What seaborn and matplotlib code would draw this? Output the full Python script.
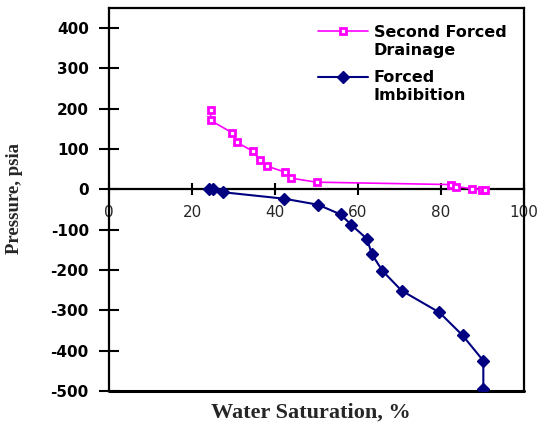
import matplotlib
matplotlib.use("Agg")
import matplotlib.pyplot as plt
import seaborn as sns
import pandas as pd

# Second Forced Drainage
drain_sw = [24.5, 24.5, 29.6, 30.8, 34.6, 36.4, 38.0, 42.4, 43.8, 50.0, 82.5, 83.7, 87.4, 89.8, 90.5]
drain_p = [196, 171, 141, 117, 95, 72, 58, 43, 28, 18, 12, 7, 2, -1, -2]

# Forced Imbibition
imb_sw = [24.2, 25.0, 27.5, 42.2, 50.4, 55.8, 58.4, 62.2, 63.3, 65.9, 70.5, 79.6, 85.2, 90.2, 90.2]
imb_p = [2, 0, -7, -23, -38, -62, -88, -123, -160, -202, -251, -305, -362, -425, -494]

xticks = [0, 20, 40, 60, 80, 100]
yticks = [-500, -400, -300, -200, -100, 0, 100, 200, 300, 400]

sns.set_theme(style="white")
plt.rcParams['font.family'] = ['DejaVu Sans']

W, H = 547, 429
fig = plt.figure(figsize=(W / 100, H / 100), dpi=100)
ax = fig.add_axes([109 / W, (H - 391) / H, 415 / W, 383 / H])

df_d = pd.DataFrame({"sw": drain_sw, "p": drain_p})
df_i = pd.DataFrame({"sw": imb_sw, "p": imb_p})

sns.lineplot(data=df_d, x="sw", y="p", sort=False, ax=ax, color="#FF00FF", lw=1.2,
             marker="s", markersize=5, markerfacecolor="white", markeredgecolor="#FF00FF",
             markeredgewidth=2, label="Second Forced", estimator=None, zorder=4)
sns.lineplot(data=df_i, x="sw", y="p", sort=False, ax=ax, color="#000080", lw=1.5,
             marker="D", markersize=6, markerfacecolor="#000080", markeredgecolor="#000080",
             markeredgewidth=1, label="Forced", estimator=None, zorder=3)

ax.set_xlim(0, 100)
ax.set_ylim(-500, 450)
ax.set_xticks(xticks)
ax.set_yticks(yticks)
ax.set_xticklabels([str(v) for v in xticks], fontsize=11, fontweight="bold", color="black")
ax.set_yticklabels([str(v) for v in yticks], fontsize=11, fontweight="bold", color="black")

for s in ["left", "top", "right", "bottom"]:
    ax.spines[s].set_color("black")
    ax.spines[s].set_linewidth(1.6)
    ax.spines[s].set_zorder(2)
ax.spines["bottom"].set_position(("data", 0))
ax.plot([0, 1], [0, 0], transform=ax.transAxes, color="black", lw=2.2, clip_on=False)

ax.tick_params(axis="x", direction="inout", length=9, width=1.5, color="black", pad=7)
ax.tick_params(axis="y", direction="inout", length=15, width=1.5, color="black", pad=7)
ax.tick_params(bottom=True, left=True)

ax.set_xlabel("")
ax.set_ylabel("")
fig.text(311 / W, 1 - 413 / H, "Water Saturation, %", family=["Liberation Serif", "DejaVu Serif"],
         fontweight="bold", fontsize=16, ha="center", va="center")
fig.text(15 / W, 1 - 198 / H, "Pressure, psia", family=["Liberation Serif", "DejaVu Serif"],
         fontweight="bold", fontsize=13.5, ha="center", va="center", rotation=90)

leg = ax.legend(loc="upper left", bbox_to_anchor=(318 / W, 1 - 25 / H),
                bbox_transform=fig.transFigure, frameon=False, borderpad=0, borderaxespad=0,
                handlelength=3.1, handletextpad=0.4, labelspacing=1.9,
                prop={"family": "DejaVu Sans", "weight": "bold", "size": 11.5})
second_lines = ["Drainage", "Imbibition"]
for t, extra in zip(leg.get_texts(), second_lines):
    t.set_color("black")
    ax.annotate(extra, xy=(0, 0), xycoords=t, xytext=(0, -13), textcoords="offset points",
                ha="left", va="bottom", fontsize=11.5, fontweight="bold", color="black",
                family="DejaVu Sans", annotation_clip=False, zorder=10)

fig.savefig("out.png", dpi=100)
